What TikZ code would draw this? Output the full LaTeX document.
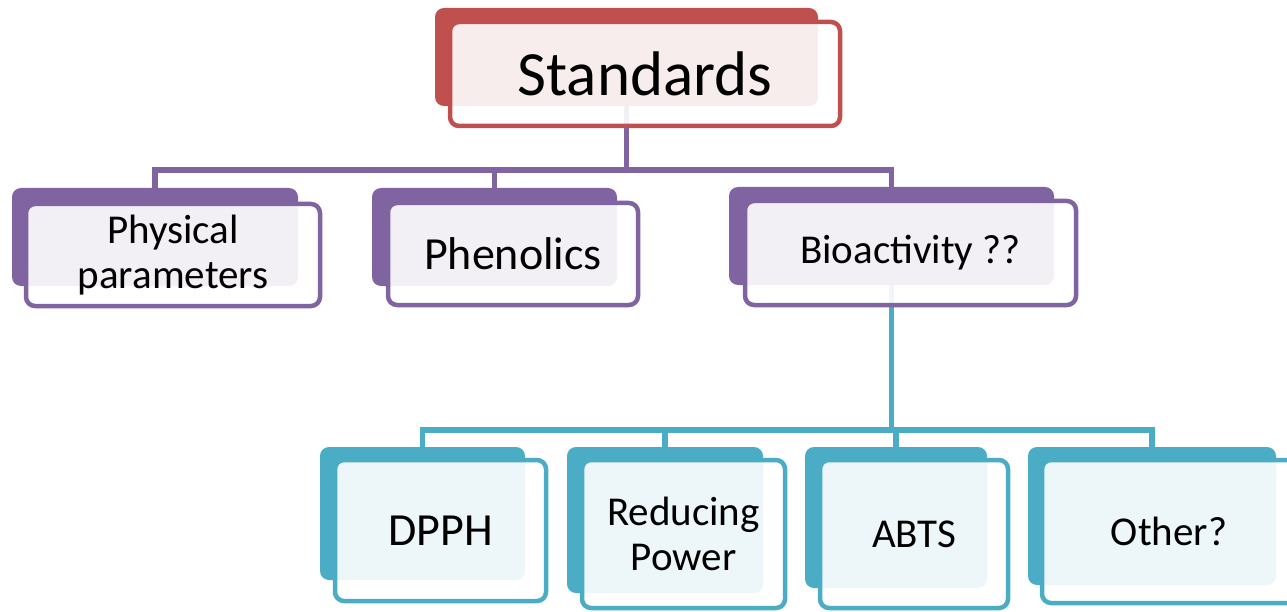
\documentclass[tikz,border=0pt]{standalone}
\usepackage{fontspec}
\setmainfont{Carlito}
\usetikzlibrary{backgrounds}

\definecolor{stdred}{HTML}{C0504D}
\definecolor{midpurple}{HTML}{8064A2}
\definecolor{lowteal}{HTML}{4BACC6}

\tikzset{
  backbox/.style={fill=#1, rounded corners=9pt, inner sep=0pt},
  frontbox/.style={draw=#1, line width=4.5pt, fill=white, fill opacity=0.9,
    text opacity=1, rounded corners=9pt, inner sep=0pt, align=center},
  linkline/.style={draw=#1, line width=5.5pt},
  bigtext/.style={font=\fontsize{63}{66}\selectfont},
  midtext/.style={font=\fontsize{46}{50}\selectfont},
  smalltext/.style={font=\fontsize{41}{45}\selectfont}
}

\begin{document}
\begin{tikzpicture}[x=1pt,y=-1pt]
    \useasboundingbox (0,0) rectangle (1287,612);
    \clip (0,0) rectangle (1287,612);

    % top
    \node (stdb) at (626.5,57) [backbox=stdred, minimum width=383, minimum height=98]{};
    \node (std) at (645,74) [frontbox=stdred, bigtext, minimum width=390, minimum height=104]{Standards};

    % second row
    \node (physb) at (155,237) [backbox=midpurple, minimum width=286, minimum height=98]{};
    \node (phys) at (173,255) [frontbox=midpurple, smalltext, minimum width=294, minimum height=102]{Physical\\parameters};

    \node (phenb) at (494.5,237) [backbox=midpurple, minimum width=245, minimum height=98]{};
    \node (phen) at (513,254) [frontbox=midpurple, midtext, minimum width=250, minimum height=102]{Phenolics};

    \node (biob) at (891.5,236) [backbox=midpurple, minimum width=325, minimum height=98]{};
    \node (bio) at (910.5,253) [frontbox=midpurple, smalltext, minimum width=331, minimum height=104]{Bioactivity ??};

    % third row
    \node (dpphb) at (422.5,513.5) [backbox=lowteal, minimum width=205, minimum height=133]{};
    \node (dpph) at (440.5,530.5) [frontbox=lowteal, midtext, minimum width=211, minimum height=141]{DPPH};

    \node (redb) at (665,520) [backbox=lowteal, minimum width=196, minimum height=146]{};
    \node (red) at (683.5,534) [frontbox=lowteal, smalltext, minimum width=203, minimum height=148]{Reducing\\Power};

    \node (abtsb) at (896,517.5) [backbox=lowteal, minimum width=182, minimum height=141]{};
    \node (abts) at (914,534) [frontbox=lowteal, smalltext, minimum width=188, minimum height=148]{ABTS};

    \node (othb) at (1152,516) [backbox=lowteal, minimum width=248, minimum height=138]{};
    \node (oth) at (1169,531.5) [frontbox=lowteal, smalltext, minimum width=254, minimum height=143]{Other?};

    \coordinate (stdbus) at (626.5,170);
    \coordinate (biobus) at (891.5,430);

    \begin{scope}[on background layer]
      \draw[linkline=midpurple] (stdb.south) -- (stdbus);
      \draw[linkline=midpurple] (stdbus) -| (physb.north);
      \draw[linkline=midpurple] (stdbus) -| (phenb.north);
      \draw[linkline=midpurple] (stdbus) -| (biob.north);

      \draw[linkline=lowteal] (biob.south) -- (biobus);
      \draw[linkline=lowteal] (biobus) -| (dpphb.north);
      \draw[linkline=lowteal] (biobus) -| (redb.north);
      \draw[linkline=lowteal] (biobus) -| (abtsb.north);
      \draw[linkline=lowteal] (biobus) -| (othb.north);
    \end{scope}
\end{tikzpicture}
\end{document}
